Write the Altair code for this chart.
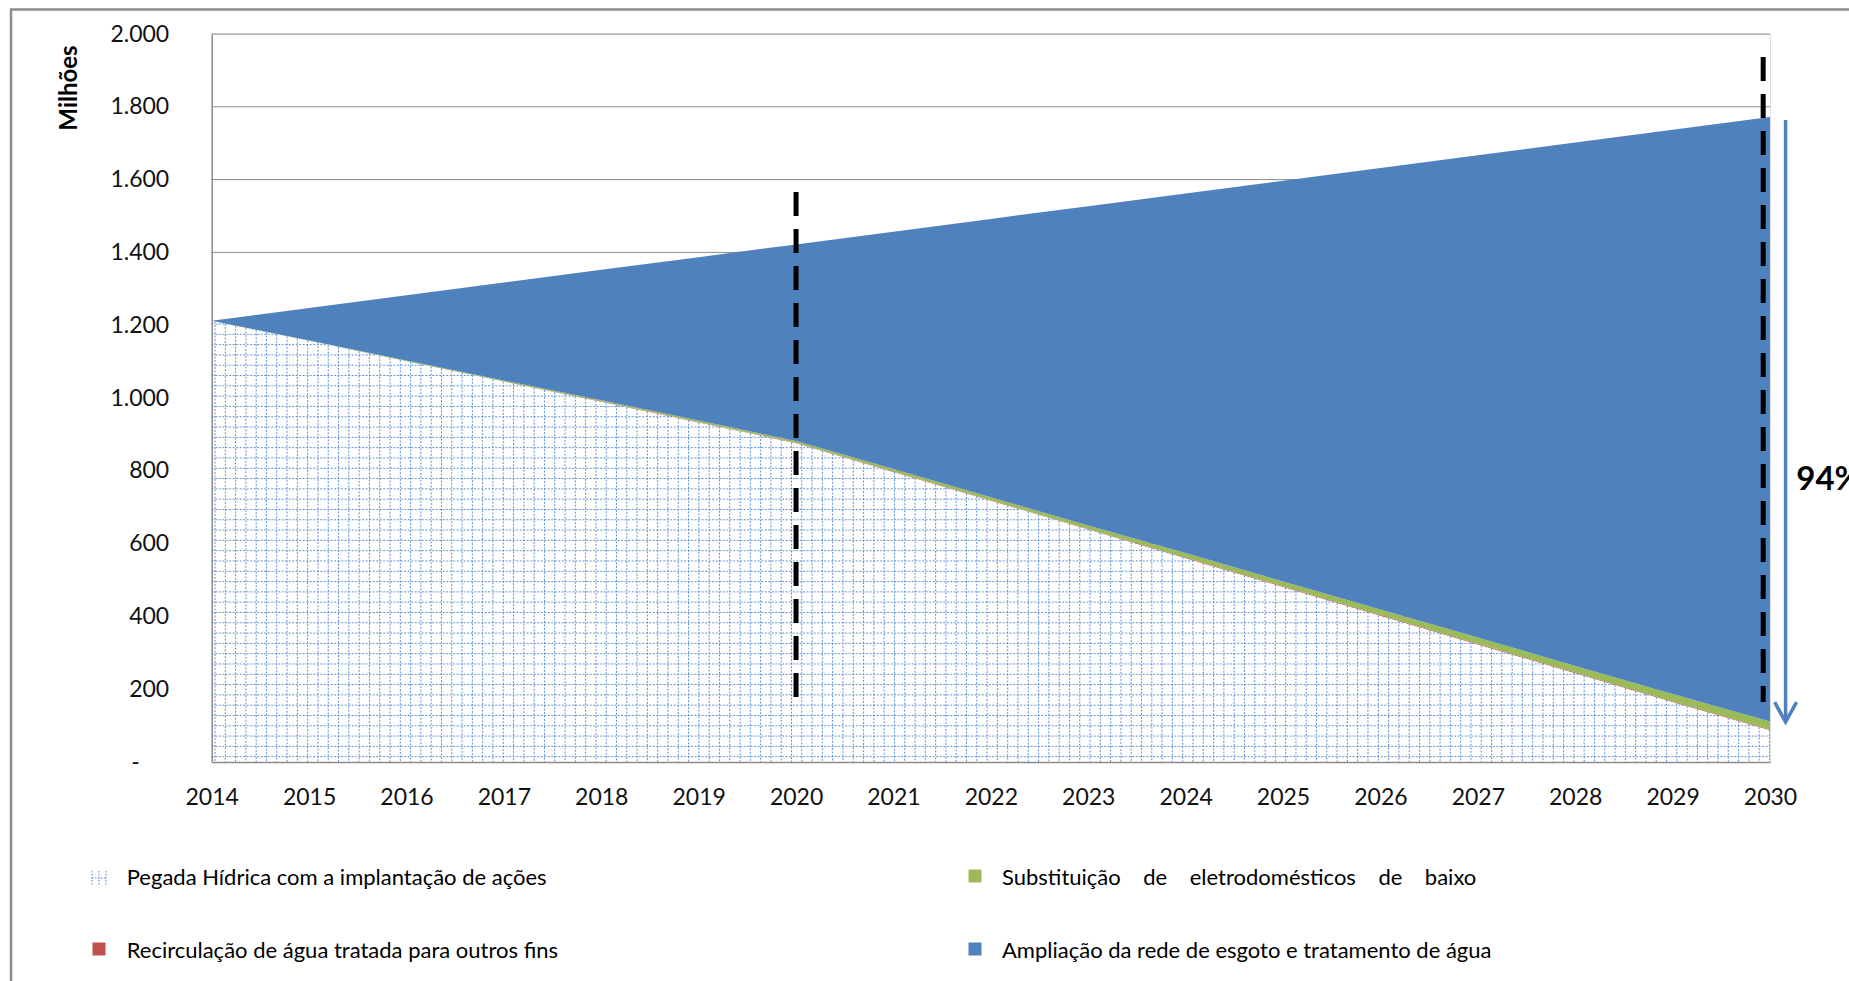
import altair as alt
import numpy as np
import pandas as pd

# ---------------- data ----------------
years = list(range(2014, 2031))
pegada = [1212, 1157, 1101, 1045, 990, 933, 876, 797, 718, 639, 560, 481, 402, 323, 244, 165, 87]
recirculacao = [0, 0, 0, 0, 1, 1, 1, 1, 1, 1, 2, 2, 2, 2, 2, 2, 2]
substituicao = [0, 1, 2, 3, 3, 4, 5, 7, 8, 10, 12, 13, 15, 17, 18, 20, 22]
ampliacao = [0, 89, 179, 269, 358, 449, 540, 652, 765, 877, 988, 1101, 1213, 1325, 1438, 1550, 1661]

series_names = [
    "Pegada Hídrica com a implantação de ações",
    "Recirculação de água tratada para outros fins",
    "Substituição de eletrodomésticos de baixo",
    "Ampliação da rede de esgoto e tratamento de água",
]
NB = "\u00a0\u00a0\u00a0\u00a0"
legend_labels = [
    "Pegada Hídrica com a implantação de ações",
    "Recirculação de água tratada para outros fins",
    "Substituição" + NB + "de" + NB + "eletrodomésticos" + NB + "de" + NB + "baixo",
    "Ampliação da rede de esgoto e tratamento de água",
]
series_colors = ["#FFFFFF", "#C0504D", "#9BBB59", "#4F81BD"]
y_ticks = [0, 200, 400, 600, 800, 1000, 1200, 1400, 1600, 1800, 2000]

marker_years = [2020, 2029.93]
marker_top = [1566, 1937]
marker_bottom = [159, 165]

arrow_x = [2030.16]
arrow_from = [1764]
arrow_to = [110]
pct_x = [2030.27]
pct_y = [775]
pct_label = ["94%"]

# ---------------- layout ----------------
W = 1558.3
H = 728
PAD = {"left": 211.7, "top": 34, "right": 79, "bottom": 219}
FONT = "Lato"
GRAY = "#8C8C8C"
HATCH = "#4F86D0"

# ---------------- tables ----------------
rows = []
for k, (name, vals) in enumerate(zip(series_names, [pegada, recirculacao, substituicao, ampliacao])):
    for yr, v in zip(years, vals):
        rows.append({"year": yr, "value": v, "serie": name, "k": k})
df = pd.DataFrame(rows)

# hatch pattern lines (texture of the "Pegada" area), clipped to its top boundary
hatch_dx = 0.1057  # years between vertical pattern lines
hatch_dy = 28.3    # units between horizontal pattern lines
vt = np.arange(2014.034, 2030.0, hatch_dx)
vert = pd.DataFrame({"t": vt, "top": np.interp(vt, years, pegada), "base": 0.0})
hv = np.arange(14.6, max(pegada), hatch_dy)
horiz = pd.DataFrame({"v": hv, "xstart": float(years[0]), "xend": np.interp(hv, pegada[::-1], years[::-1])})

grid_df = pd.DataFrame({"v": y_ticks[1:]})
markers = pd.DataFrame({"year": marker_years, "top": marker_top, "bottom": marker_bottom})
arrow = pd.DataFrame({"x": arrow_x, "a": arrow_from, "b": arrow_to})
pct = pd.DataFrame({"x": pct_x, "y": pct_y, "label": pct_label})
one = pd.DataFrame({"d": [0]})

xscale = alt.Scale(domain=[2014, 2030], nice=False, zero=False)
yscale = alt.Scale(domain=[0, 2000], nice=False, zero=True)

x_axis = alt.Axis(
    values=years, format="d", title=None, ticks=False, grid=False,
    domainColor=GRAY, domainWidth=1.5, labelFont=FONT, labelFontSize=23,
    labelColor="#111111", labelPadding=24, labelFlush=False, zindex=1,
)
y_axis = alt.Axis(
    values=y_ticks,
    labelExpr="datum.value == 0 ? '-\u00a0\u00a0\u00a0\u00a0\u00a0\u200b' : replace(format(datum.value, ','), ',', '.')",
    ticks=False, grid=False, domainColor=GRAY, domainWidth=1.5,
    labelFont=FONT, labelFontSize=23, labelColor="#111111", labelPadding=43,
    title="Milhões", titleFont=FONT, titleFontSize=24, titleFontWeight="bold",
    titleColor="#000000", titleAngle=270, titleX=-142, titleY=53.5,
    titleAlign="center", titleBaseline="middle", zindex=1,
)


def X(f):
    return alt.X(f, scale=xscale, axis=x_axis)


def Y(f, **kw):
    return alt.Y(f, scale=yscale, axis=y_axis, **kw)


# ---------------- layers ----------------
frame = alt.Chart(one).mark_rect(filled=False, stroke=GRAY, strokeWidth=2.5, fillOpacity=0).encode(
    x=alt.value(-200.7), x2=alt.value(1700), y=alt.value(-24.5), y2=alt.value(1100)
)

grid = alt.Chart(grid_df).mark_rule(color=GRAY, strokeWidth=1).encode(
    y=Y("v:Q"), x=alt.value(0), x2=alt.value(W)
)

areas = alt.Chart(df).mark_area(interpolate="linear").encode(
    x=X("year:Q"),
    y=Y("value:Q", stack="zero"),
    color=alt.Color("serie:N", scale=alt.Scale(domain=series_names, range=series_colors), legend=None),
    order=alt.Order("k:Q"),
)

hatch_v = alt.Chart(vert).mark_rule(color=HATCH, strokeWidth=1, strokeDash=[2, 1.5], opacity=0.9).encode(
    x=X("t:Q"), y=Y("top:Q"), y2=alt.Y2("base:Q"),
)
hatch_h = alt.Chart(horiz).mark_rule(color=HATCH, strokeWidth=1, strokeDash=[2, 1.5], opacity=0.9).encode(
    y=Y("v:Q"), x=X("xstart:Q"), x2=alt.X2("xend:Q"),
)

mk = alt.Chart(markers).mark_rule(color="black", strokeWidth=5, strokeDash=[24, 13]).encode(
    x=X("year:Q"), y=Y("top:Q"), y2=alt.Y2("bottom:Q"),
)

arr_line = alt.Chart(arrow).mark_rule(color="#4F81BD", strokeWidth=3.5).encode(
    x=X("x:Q"), y=Y("a:Q"), y2=alt.Y2("b:Q"),
)
arr_head = alt.Chart(arrow).mark_point(
    shape="M-1,-1.8L0,0L1,-1.8", filled=False, size=484, strokeWidth=3.5, color="#4F81BD", opacity=1
).encode(x=X("x:Q"), y=Y("b:Q"))

pct_text = alt.Chart(pct).mark_text(
    align="left", baseline="middle", font=FONT, fontSize=33, fontWeight="bold", color="black"
).encode(x=X("x:Q"), y=Y("y:Q"), text="label:N")

# ---------------- legend (manual, two columns) ----------------
leg_icon_x = [-112.7, -112.7, 763.3, 763.3]
leg_text_x = [-85, -85, 790.3, 790.3]
leg_y = [844, 917, 844, 917]
legend_layers = []
for i in range(4):
    lab = legend_labels[i]
    if i == 0:
        icon = alt.Chart(one).mark_point(
            shape="M-1,-1L-1,1M1,-1L1,1M-1,0L1,0M0,-1L0,1", filled=False, size=196,
            strokeWidth=1, strokeDash=[1.5, 1.5], color=HATCH, opacity=1,
        ).encode(x=alt.value(leg_icon_x[i]), y=alt.value(leg_y[i]))
    else:
        icon = alt.Chart(one).mark_point(
            shape="square", filled=True, size=169, color=series_colors[i], opacity=1
        ).encode(x=alt.value(leg_icon_x[i]), y=alt.value(leg_y[i] - 2))
    txt = alt.Chart(pd.DataFrame({"label": [lab]})).mark_text(
        align="left", baseline="middle", font=FONT, fontSize=22, color="#000000"
    ).encode(x=alt.value(leg_text_x[i]), y=alt.value(leg_y[i]), text="label:N")
    legend_layers += [icon, txt]

chart = alt.layer(
    frame, grid, areas, hatch_v, hatch_h, mk, arr_line, arr_head, pct_text, *legend_layers
).properties(
    width=W, height=H,
    autosize=alt.AutoSizeParams(type="none"),
    padding=PAD,
    background="white",
).configure_view(stroke=None).configure(font=FONT)

chart.save("out.html", embed_options={"renderer": "svg", "actions": False})
